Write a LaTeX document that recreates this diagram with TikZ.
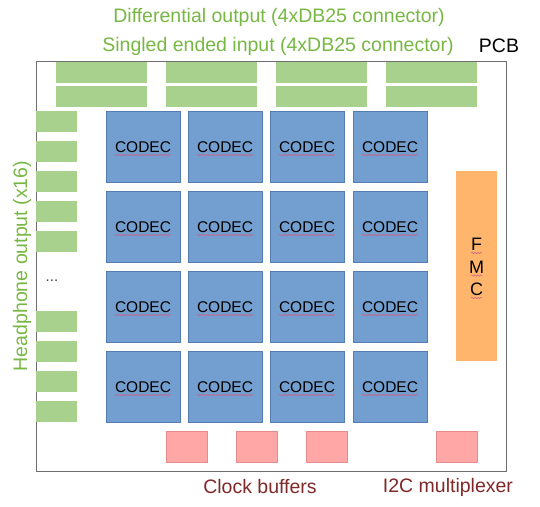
\documentclass[tikz,border=0pt]{standalone}
\usepackage{fontspec}
\setmainfont{Liberation Sans}
\usetikzlibrary{decorations.pathmorphing}
\definecolor{lblgreen}{RGB}{119,183,67}
\definecolor{congreen}{RGB}{169,209,142}
\definecolor{codecblue}{RGB}{114,159,207}
\definecolor{codecedge}{RGB}{84,124,176}
\definecolor{pinkbox}{RGB}{255,166,166}
\definecolor{pinkedge}{RGB}{230,140,140}
\definecolor{fmcorange}{RGB}{255,182,108}
\definecolor{darkred}{RGB}{128,40,40}
\definecolor{squigred}{RGB}{205,95,135}
\definecolor{frameedge}{RGB}{110,110,110}
\tikzset{
  boxbase/.style={anchor=north west, inner sep=0pt, outer sep=0pt},
  pcbframe/.style={boxbase, draw=frameedge, line width=0.9pt, fill=white},
  conbox/.style={boxbase, fill=congreen, draw=none},
  codecbox/.style={boxbase, fill=codecblue, draw=codecedge, line width=0.7pt, minimum width=74pt, minimum height=71pt},
  codectxt/.style={inner sep=0pt, font=\fontsize{15.5}{18}\selectfont, text=black},
  pinkrect/.style={boxbase, fill=pinkbox, draw=pinkedge, line width=0.6pt, minimum width=41pt, minimum height=31pt},
  fmcbox/.style={boxbase, fill=fmcorange, draw=none},
  biglabel/.style={inner sep=0pt, font=\fontsize{19.5}{23}\selectfont},
  squig/.style={draw=squigred, line width=0.5pt, decorate, decoration={snake, amplitude=0.7pt, segment length=3pt}}
}
\begin{document}
\begin{tikzpicture}[x=1pt,y=-1pt]
\useasboundingbox (0,0) rectangle (540,506);
% PCB frame
\node[pcbframe, minimum width=470pt, minimum height=410pt] (pcb) at (36,61) {};
% top connectors
\foreach \i/\x in {1/56,2/166,3/276,4/386}{
  \node[conbox, minimum width=91pt, minimum height=21pt] (dout\i) at (\x,62) {};
  \node[conbox, minimum width=91pt, minimum height=21pt] (sin\i) at (\x,86) {};
}
% left headphone connectors
\foreach \k/\y in {1/111,2/141,3/171,4/201,5/231,6/311,7/341,8/371,9/401}{
  \node[conbox, minimum width=41pt, minimum height=21pt] (hp\k) at (36,\y) {};
}
\node[inner sep=0pt, font=\fontsize{15}{18}\selectfont, text=black!75] (dots) at (52,281) {...};
% codecs
\foreach \i/\x in {1/106,2/188,3/270,4/353}{
  \foreach \j/\y in {1/111,2/191,3/271,4/351}{
    \node[codecbox] (c\i\j) at (\x,\y) {};
    \node[codectxt] (t\i\j) at ([yshift=-1pt]c\i\j.center) {CODEC};
    \draw[squig] ([yshift=-2.2pt]t\i\j.base west) -- ([yshift=-2.2pt]t\i\j.base east);
  }
}
% FMC
\node[fmcbox, minimum width=41pt, minimum height=190pt] (fmc) at (456,171) {};
\node[inner sep=0pt, font=\fontsize{18}{22.5}\selectfont, text=black, align=center] (fmctxt) at (476.5,267) {F\\M\\C};
\foreach \d in {-22.5,0,22.5}{
  \draw[squig] ([xshift=-5.5pt,yshift={-8.5pt-\d}]fmctxt.center) -- ([xshift=5.5pt,yshift={-8.5pt-\d}]fmctxt.center);
}
% pink boxes
\foreach \k/\x in {1/166,2/236,3/306,4/436}{
  \node[pinkrect] (pk\k) at (\x,431) {};
}
% labels
\node[biglabel, text=lblgreen] (ldiff) at (279,17) {Differential output (4xDB25 connector)};
\node[biglabel, text=lblgreen] (lsin) at (278,46) {Singled ended input (4xDB25 connector)};
\node[biglabel, text=black] (lpcb) at (499,46) {PCB};
\node[biglabel, text=lblgreen, rotate=90] (lhp) at (22,266) {Headphone output (x16)};
\node[biglabel, text=darkred] (lclk) at (260,487) {Clock buffers};
\node[biglabel, text=darkred] (li2c) at (448,487) {I2C multiplexer};
\end{tikzpicture}
\end{document}
